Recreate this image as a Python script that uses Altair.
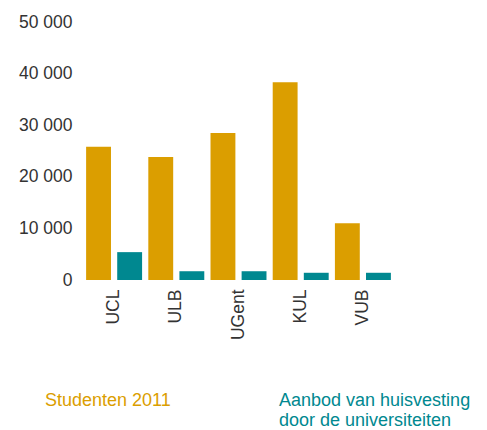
import altair as alt
import pandas as pd

universities = ["UCL", "ULB", "UGent", "KUL", "VUB"]
studenten = [25800, 23850, 28500, 38300, 11000]
aanbod = [5400, 1700, 1700, 1400, 1400]
series_names = ["Studenten 2011", "Aanbod van huisvesting door de universiteiten"]
legend_lines = {
    "Studenten 2011": ["Studenten 2011", ""],
    "Aanbod van huisvesting door de universiteiten": ["Aanbod van huisvesting", "door de universiteiten"],
}
colors = ["#DB9E00", "#008890"]
y_ticks = [0, 10000, 20000, 30000, 40000, 50000]

rows = []
for u, s, a in zip(universities, studenten, aanbod):
    rows.append({"uni": u, "serie": series_names[0], "value": s})
    rows.append({"uni": u, "serie": series_names[1], "value": a})
df = pd.DataFrame(rows)

FONT = "Liberation Sans"
FS = 17.5
LFS = 18

label_color_expr = "datum.label == '%s' ? '%s' : '%s'" % (series_names[0], colors[0], colors[1])
label_text_expr = "datum.label == '%s' ? ['%s', ''] : ['%s', '%s']" % (
    series_names[0], legend_lines[series_names[0]][0],
    legend_lines[series_names[1]][0], legend_lines[series_names[1]][1])

chart = alt.Chart(df).mark_bar().encode(
    x=alt.X("uni:N", sort=universities, title=None,
            scale=alt.Scale(paddingInner=0, paddingOuter=0),
            axis=alt.Axis(labelAngle=-90, ticks=False, domain=False,
                          labelPadding=9, labelFontSize=FS, labelColor="#333333",
                          labelFont=FONT)),
    xOffset=alt.XOffset("serie:N", sort=series_names,
                        scale=alt.Scale(paddingInner=0.2, paddingOuter=0.1)),
    y=alt.Y("value:Q", title=None,
            scale=alt.Scale(domain=[0, 50000], nice=False),
            axis=alt.Axis(values=y_ticks, grid=False, ticks=False, domain=False,
                          labelPadding=11, labelFontSize=FS, labelColor="#333333",
                          labelFont=FONT,
                          labelExpr="replace(format(datum.value, ',d'), ',', ' ')")),
    color=alt.Color("serie:N", sort=series_names,
                    scale=alt.Scale(domain=series_names, range=colors),
                    legend=alt.Legend(
                        title=None, orient="none", legendX=-56, legendY=361,
                        direction="horizontal", columns=2, columnPadding=90,
                        symbolSize=0, symbolStrokeWidth=0, symbolOpacity=0,
                        labelOffset=0, padding=0, labelLimit=400,
                        labelFontSize=LFS, labelFont=FONT, labelBaseline="top",
                        labelColor={"expr": label_color_expr},
                        labelExpr=label_text_expr,
                    )),
).properties(
    width=311, height=258,
    autosize=alt.AutoSizeParams(type="none"),
    padding={"left": 75, "top": 14, "right": 85, "bottom": 150},
).configure_view(stroke=None)

chart.save("out.html", embed_options={"renderer": "svg", "actions": False})
